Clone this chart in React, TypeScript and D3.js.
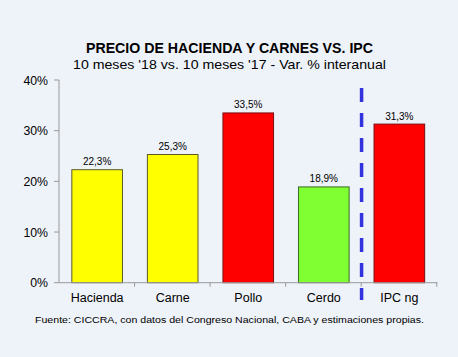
import React from "react";
import * as d3 from "d3";

const categories = ["Hacienda", "Carne", "Pollo", "Cerdo", "IPC ng"];
const values = [22.3, 25.3, 33.5, 18.9, 31.3];
const barColors = ["#FFFF00", "#FFFF00", "#FF0000", "#80FF33", "#FF0000"];
const barStrokes = ["#5a5a2a", "#5a5a2a", "#7a1010", "#3a6a2a", "#7a1010"];
const yTicks = [0, 10, 20, 30, 40];

const W = 458;
const H = 357;
const FONT = "'Liberation Sans', Arial, sans-serif";

export default function App() {
  const x = d3.scaleBand<string>().domain(categories).range([59, 437.5]).paddingInner(0.33).paddingOuter(0.17);
  const y = d3.scaleLinear().domain([0, 40]).range([282.7, 80]);
  const step = x.step();
  const sepX = (x("Cerdo")! + x.bandwidth() + x("IPC ng")!) / 2;
  const fmt = (v: number) => v.toFixed(1).replace(".", ",") + "%";

  return (
    <svg width={W} height={H} style={{ position: "absolute", left: 0, top: 0, display: "block" }}>
      <rect x={0} y={0} width={W} height={H} fill="#EEF2F9" />
      <text x={229.5} y={53} textAnchor="middle" fontFamily={FONT} fontWeight="bold" fontSize={13.8} fill="#000"
        textLength={287} lengthAdjust="spacingAndGlyphs">
        PRECIO DE HACIENDA Y CARNES VS. IPC
      </text>
      <text x={229.5} y={68.5} textAnchor="middle" fontFamily={FONT} fontSize={12.8} fill="#000"
        textLength={313} lengthAdjust="spacingAndGlyphs">
        10 meses '18 vs. 10 meses '17 - Var. % interanual
      </text>
      {/* y axis */}
      <line x1={59} x2={59} y1={y(40)} y2={y(0)} stroke="#999" strokeWidth={1} />
      {yTicks.map((t) => (
        <g key={t}>
          <line x1={54} x2={59} y1={y(t)} y2={y(t)} stroke="#999" />
          <text x={48} y={y(t) + 4.5} textAnchor="end" fontFamily={FONT} fontSize={12.3} fill="#000">
            {t}%
          </text>
        </g>
      ))}
      {/* bars */}
      {categories.map((c, i) => (
        <g key={c}>
          <rect
            x={x(c)!}
            y={y(values[i])}
            width={x.bandwidth()}
            height={y(0) - y(values[i])}
            fill={barColors[i]}
            stroke={barStrokes[i]}
            strokeWidth={1}
          />
          <text
            x={x(c)! + x.bandwidth() / 2}
            y={y(values[i]) - 4.5}
            textAnchor="middle"
            fontFamily={FONT}
            fontSize={10}
            fill="#000"
          >
            {fmt(values[i])}
          </text>
          <text
            x={x(c)! + x.bandwidth() / 2}
            y={302}
            textAnchor="middle"
            fontFamily={FONT}
            fontSize={12.5}
            fill="#000"
          >
            {c}
          </text>
        </g>
      ))}
      {/* x axis */}
      <line x1={59} x2={437.5} y1={y(0)} y2={y(0)} stroke="#999" />
      {categories.map((c, i) => (
        <line key={"t" + c} x1={59 + step * (i + 1)} x2={59 + step * (i + 1)} y1={y(0)} y2={y(0) + 4} stroke="#999" />
      ))}
      {/* separator */}
      <line x1={sepX} x2={sepX} y1={88} y2={300} stroke="#3333DD" strokeWidth={3.5} strokeDasharray="14 11" />
      <text x={229.5} y={322.5} textAnchor="middle" fontFamily={FONT} fontSize={9.6} fill="#000"
        textLength={389} lengthAdjust="spacingAndGlyphs">
        Fuente: CICCRA, con datos del Congreso Nacional, CABA y estimaciones propias.
      </text>
    </svg>
  );
}
